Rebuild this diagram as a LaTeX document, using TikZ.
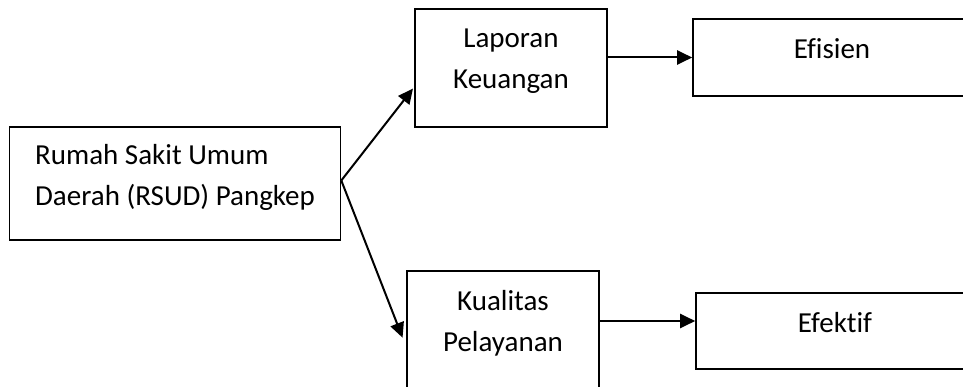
\documentclass[tikz,border=0pt]{standalone}
\usepackage{fontspec}
\setmainfont{Carlito}[Ligatures=NoCommon]
\usetikzlibrary{arrows.meta}
\begin{document}
\begin{tikzpicture}[x=1pt,y=-1pt,line width=1.6pt,
	kotak/.style={draw,align=center,inner sep=0pt,text depth=18pt,
		font=\fontsize{29}{41}\selectfont},
	panah/.style={-{Triangle[length=15pt,width=14pt]},line width=2pt}]
	\useasboundingbox (0,0) rectangle (963,387);
	\def\lebar{192} % lebar kotak tengah
	\def\tinggi{118} % tinggi kotak tengah
	\node[kotak,align=left,minimum width=331pt,minimum height=113pt] (rsud) at (175,183.5) {Rumah Sakit Umum\\Daerah (RSUD) Pangkep};
	\node[kotak,minimum width=\lebar pt,minimum height=\tinggi pt] (lap) at (511,68) {Laporan\\Keuangan};
	\node[kotak,minimum width=\lebar pt,minimum height=\tinggi pt] (kual) at (503,330) {Kualitas\\Pelayanan};
	\node[kotak,minimum width=278pt,minimum height=77pt] (efis) at (832,57.5) {Efisien};
	\node[kotak,minimum width=278pt,minimum height=76pt] (efek) at (835,331) {Efektif};
	\coordinate (k1) at ([yshift=9pt]kual.east);
	\draw[panah,shorten >=2pt] ([yshift=3pt]rsud.east) -- ([yshift=-19pt]lap.west);
	\draw[panah,shorten >=10pt] ([yshift=3pt]rsud.east) -- ([yshift=-17pt]kual.west);
	\draw[panah] (lap.east |- efis.west) -- (efis.west);
	\draw[panah] (k1) -- (k1 -| efek.west);
\end{tikzpicture}
\end{document}
